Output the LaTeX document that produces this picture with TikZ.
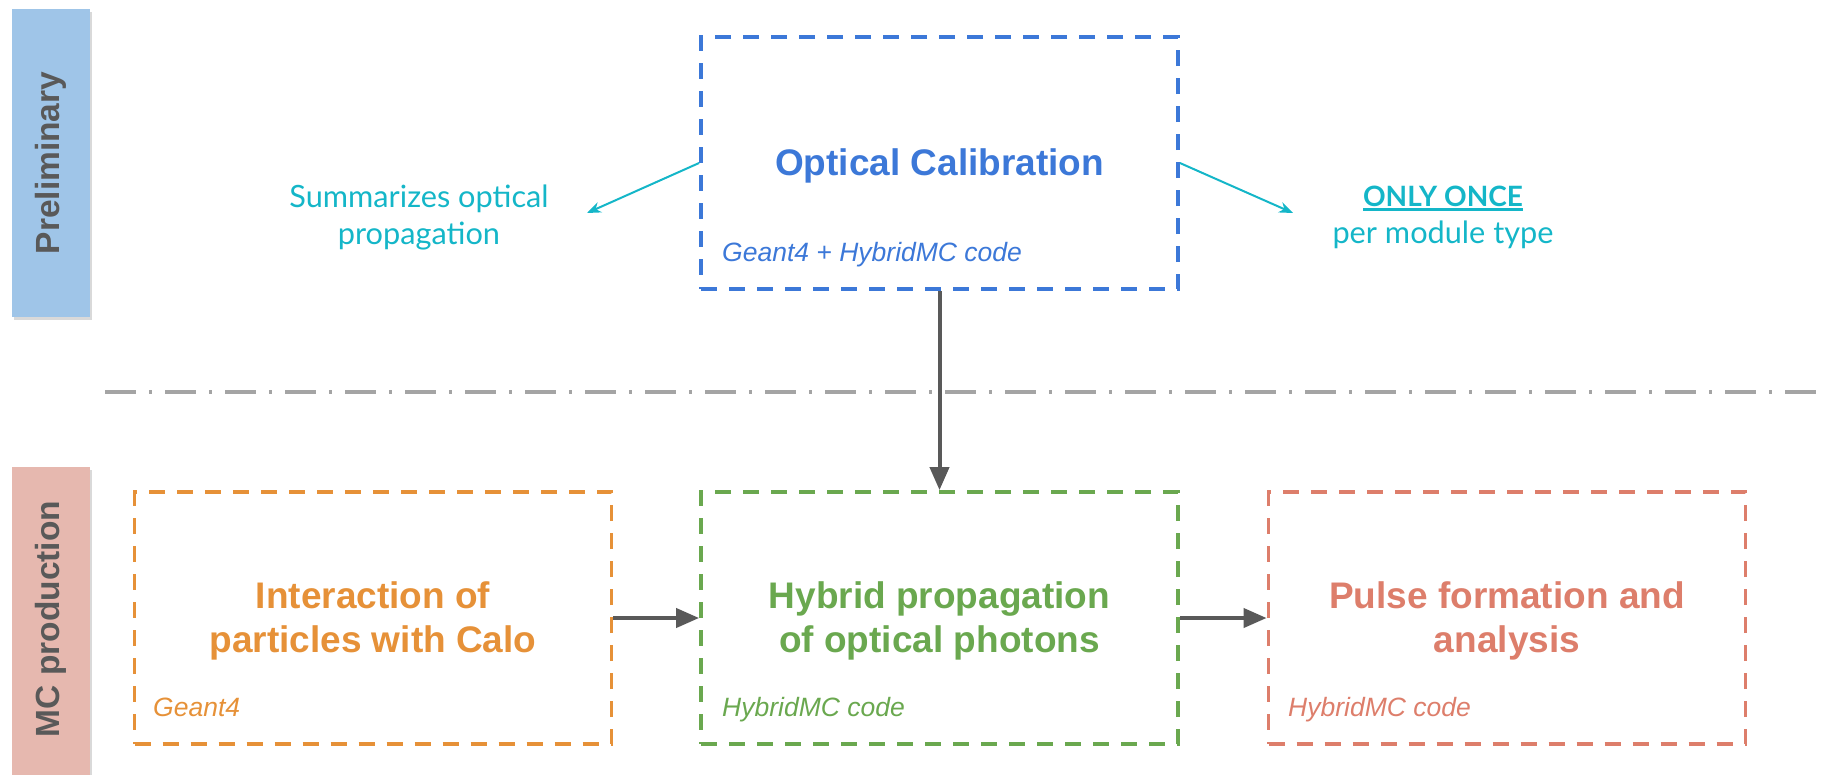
\documentclass[tikz,border=0pt]{standalone}
\usepackage{fontspec}
\setmainfont{Liberation Sans}
\newfontfamily\annotfont{Lato}
\usetikzlibrary{arrows.meta,shadows}
\definecolor{cblue}{HTML}{3C78D8}
\definecolor{corange}{HTML}{E69138}
\definecolor{cgreen}{HTML}{6AA84F}
\definecolor{cred}{HTML}{DD7E6B}
\definecolor{ccyan}{RGB}{20,182,200}
\definecolor{cgray}{HTML}{595959}
\definecolor{cline}{HTML}{A4A4A4}
\definecolor{barblue}{HTML}{9FC5E8}
\definecolor{barred}{HTML}{E6B8AF}
\newcommand{\thickul}[1]{\setbox0\hbox{#1}\rlap{\rule[-5pt]{\wd0}{2.8pt}}\box0}
\begin{document}
\begin{tikzpicture}[x=1pt,y=-1pt,
  stagebox/.style={draw=#1, line width=3.8pt, dash pattern=on 16pt off 12pt, minimum width=477pt, minimum height=252pt, inner sep=0pt},
  title/.style={text=#1, font=\fontsize{37}{44}\selectfont\bfseries, align=center, anchor=base, inner sep=0pt},
  sub/.style={text=#1, font=\fontsize{26.5}{30}\selectfont\itshape, anchor=base west, inner sep=0pt},
  bar/.style={fill=#1, minimum width=78pt, inner sep=0pt, drop shadow={shadow xshift=2pt, shadow yshift=-3pt, opacity=0.3}},
  bartext/.style={text=cgray, font=\fontsize{33.5}{38}\selectfont\bfseries, rotate=90, inner sep=0pt},
  flow/.style={draw=cgray, line width=4pt, -{Triangle[length=23pt,width=19pt]}},
  note/.style={draw=ccyan, line width=2pt, -{Stealth[length=14pt,width=11pt]}},
  notetext/.style={text=ccyan, font=\annotfont\fontsize{30.7}{37}\selectfont, align=center, inner sep=0pt}
]
\useasboundingbox (0,0) rectangle (1829,774);

% side bars
\node[bar=barblue, minimum height=308pt] (prebar) at (51,163) {};
\node[bartext] (pretext) at (51,163) {Preliminary};
\node[bar=barred, minimum height=314pt] (mcbar) at (51,624) {};
\node[bartext] (mctext) at (51,619) {MC production};

% separator
\coordinate (sepL) at (105,392);
\coordinate (sepR) at (1817,392);
\draw[draw=cline, line width=4pt, dash pattern=on 31pt off 13pt on 3pt off 13pt] (sepL) -- (sepR);

% boxes
\node[stagebox=cblue] (calib) at (939.5,163) {};
\node[title=cblue] (calibt) at (939.5,175) {Optical Calibration};
\node[sub=cblue] (calibs) at (722,261) {Geant4 + HybridMC code};

\node[stagebox=corange] (inter) at (373,618) {};
\node[title=corange] (intert) at (373,652) {Interaction of\\particles with Calo};
\node[sub=corange] (inters) at (153,716) {Geant4};

\node[stagebox=cgreen] (hybrid) at (939.5,618) {};
\node[title=cgreen] (hybridt) at (939.5,652) {Hybrid propagation\\of optical photons};
\node[sub=cgreen] (hybrids) at (722,716) {HybridMC code};

\node[stagebox=cred] (pulse) at (1507,618) {};
\node[title=cred] (pulset) at (1507,652) {Pulse formation and\\analysis};
\node[sub=cred] (pulses) at (1288,716) {HybridMC code};

% flow arrows
\draw[flow] (calib.south) -- (hybrid.north);
\draw[flow] (inter.east) -- (hybrid.west);
\draw[flow] (hybrid.east) -- (pulse.west);

% notes
\node[notetext] (sumtext) at (419,217) {Summarizes optical\\propagation};
\node[notetext] (oncetext) at (1443,217) {{\fontsize{28}{37}\selectfont\bfseries\thickul{ONLY ONCE}}\\per module type};
\coordinate (n1) at (587,213);
\coordinate (n2) at (1293,213);
\draw[note] (calib.west) -- (n1);
\draw[note] (calib.east) -- (n2);
\end{tikzpicture}
\end{document}
